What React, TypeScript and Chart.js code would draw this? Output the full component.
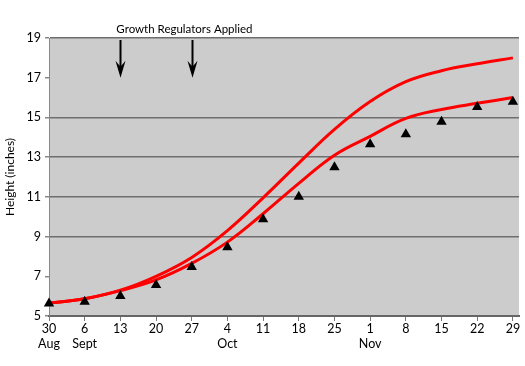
import React, { useEffect, useRef } from 'react';
import { Chart, registerables } from 'chart.js';

Chart.register(...registerables);

// Days since 30 Aug, one per weekly tick
const weekDays = [0, 7, 14, 21, 28, 35, 42, 49, 56, 63, 70, 77, 84, 91];
const weekLabels = ['30', '6', '13', '20', '27', '4', '11', '18', '25', '1', '8', '15', '22', '29'];
const monthLabels = ['Aug', 'Sept', '', '', '', 'Oct', '', '', '', 'Nov', '', '', '', ''];

// Height (inches)
const upperCurve = [5.65, 5.87, 6.3, 7.0, 7.95, 9.3, 10.95, 12.7, 14.4, 15.8, 16.8, 17.35, 17.7, 18.0];
const lowerCurve = [5.65, 5.87, 6.28, 6.82, 7.65, 8.72, 10.15, 11.68, 13.1, 14.05, 14.95, 15.4, 15.71, 16.0];
const observed = [5.63, 5.72, 6.01, 6.56, 7.47, 8.46, 9.87, 11.01, 12.49, 13.65, 14.15, 14.78, 15.52, 15.79];

const yMin = 5;
const yMax = 19;
const yStep = 2;
const gridValues = [9, 11, 13, 15, 19];

const arrowDays = [14, 28];
const arrowTipValue = 17;
const annotationText = 'Growth Regulators Applied';

const FONT = 'Lato, "Open Sans", sans-serif';

export default function App() {
  const ref = useRef<HTMLCanvasElement | null>(null);

  useEffect(() => {
    if (!ref.current) return;

    const bgPlugin = {
      id: 'plotBg',
      beforeDraw(chart: any) {
        const { ctx, chartArea } = chart;
        ctx.save();
        ctx.fillStyle = '#cccccc';
        ctx.fillRect(chartArea.left, chartArea.top, chartArea.right - chartArea.left, chartArea.bottom - chartArea.top);
        ctx.restore();
      },
    };

    const annotPlugin = {
      id: 'annot',
      afterDraw(chart: any) {
        const { ctx, scales, chartArea } = chart;
        const xs = scales.x;
        const ys = scales.y;
        ctx.save();
        const tipY = ys.getPixelForValue(arrowTipValue);
        arrowDays.forEach((d) => {
          const x = Math.round(xs.getPixelForValue(d)) + 0.5;
          ctx.strokeStyle = '#000';
          ctx.lineWidth = 2;
          ctx.beginPath();
          ctx.moveTo(x, chartArea.top + 2);
          ctx.lineTo(x, tipY - 8);
          ctx.stroke();
          ctx.fillStyle = '#000';
          ctx.beginPath();
          ctx.moveTo(x, tipY);
          ctx.lineTo(x - 5, tipY - 17);
          ctx.lineTo(x, tipY - 11);
          ctx.lineTo(x + 5, tipY - 17);
          ctx.closePath();
          ctx.fill();
        });
        ctx.fillStyle = '#000';
        ctx.font = '11.5px ' + FONT;
        ctx.textAlign = 'left';
        ctx.textBaseline = 'middle';
        ctx.fillText(annotationText, xs.getPixelForValue(arrowDays[0]) - 4, chartArea.top - 9);
        ctx.restore();
      },
    };

    const chart = new Chart(ref.current, {
      type: 'line',
      data: {
        datasets: [
          {
            type: 'scatter',
            label: 'Observed',
            data: weekDays.map((d, i) => ({ x: d, y: observed[i] })),
            pointStyle: 'triangle',
            pointRadius: 6,
            backgroundColor: '#000',
            borderColor: '#000',
            borderWidth: 0,
            showLine: false,
            clip: false,
          } as any,
          {
            label: 'Upper',
            data: weekDays.map((d, i) => ({ x: d, y: upperCurve[i] })),
            borderColor: '#ff0000',
            borderWidth: 3,
            pointRadius: 0,
            tension: 0.4,
            fill: false,
          },
          {
            label: 'Lower',
            data: weekDays.map((d, i) => ({ x: d, y: lowerCurve[i] })),
            borderColor: '#ff0000',
            borderWidth: 3,
            pointRadius: 0,
            tension: 0.4,
            fill: false,
          },
        ],
      },
      options: {
        animation: false,
        responsive: false,
        events: [],
        layout: { padding: { left: 0, top: 38, right: 5, bottom: 0 } },
        plugins: { legend: { display: false }, tooltip: { enabled: false } },
        scales: {
          x: {
            type: 'linear',
            min: 0,
            max: 92.2,
            afterFit(scale: any) {
              scale.height = 50;
            },
            afterBuildTicks(scale: any) {
              scale.ticks = weekDays.map((v) => ({ value: v }));
            },
            border: { color: '#666', width: 2 },
            grid: {
              drawOnChartArea: false,
              drawTicks: true,
              tickLength: 5,
              tickColor: '#777',
            },
            ticks: {
              autoSkip: false,
              maxRotation: 0,
              padding: 0,
              color: '#000',
              font: { family: FONT, size: 12.5 },
              callback(value: any) {
                const i = weekDays.indexOf(Number(value));
                if (i < 0) return '';
                return monthLabels[i] ? [weekLabels[i], monthLabels[i]] : weekLabels[i];
              },
            },
          },
          y: {
            type: 'linear',
            min: yMin,
            max: yMax,
            afterFit(scale: any) {
              scale.width = 49;
            },
            border: { color: '#888', width: 1 },
            grid: {
              color: (ctx: any) => (ctx.tick && gridValues.includes(ctx.tick.value) ? '#6e6e6e' : 'rgba(0,0,0,0)'),
              lineWidth: 1.5,
              drawTicks: true,
              tickLength: 4,
              tickColor: '#888',
            },
            ticks: {
              stepSize: yStep,
              padding: 4,
              color: '#000',
              font: { family: FONT, size: 12.5 },
            },
            title: {
              display: true,
              text: 'Height (inches)',
              color: '#000',
              font: { family: FONT, size: 12 },
              padding: { top: 3, bottom: 0 },
            },
          },
        },
      },
      plugins: [bgPlugin, annotPlugin],
    } as any);

    return () => chart.destroy();
  }, []);

  return (
    <div style={{ position: 'fixed', left: 0, top: 0, width: 525, height: 366, background: '#fff' }}>
      <canvas ref={ref} width={525} height={366} style={{ display: 'block', width: 525, height: 366 }} />
    </div>
  );
}
